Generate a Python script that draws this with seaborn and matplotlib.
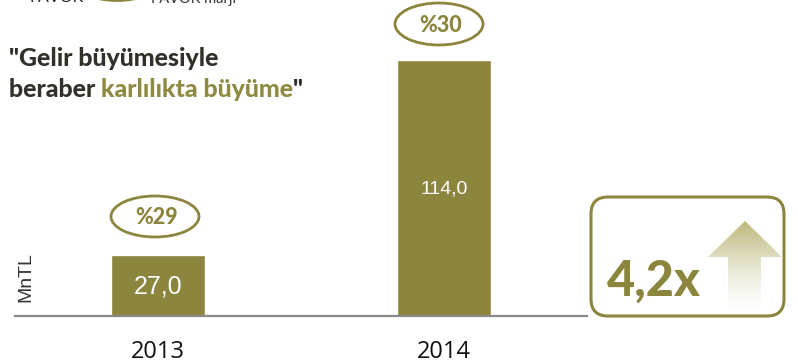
import numpy as np
import pandas as pd
import matplotlib
matplotlib.use("Agg")
import matplotlib.pyplot as plt
from matplotlib.patches import Ellipse, FancyBboxPatch, Polygon
import seaborn as sns

years = ["2013", "2014"]
favok = [27.0, 114.0]
value_labels = ["27,0", "114,0"]
margins = ["%29", "%30"]
growth_label = "4,2x"

OLIVE = "#8C853D"
DARK = "#33302A"
W, H = 798, 362
PX_PER_UNIT = 2.245

sns.set_theme(style="white")
plt.rcParams["font.family"] = ["Lato", "DejaVu Sans"]

fig = plt.figure(figsize=(W / 100, H / 100), dpi=100)

# Bar panel: the baseline sits at y=316 px, spanning x=15..587 px
ax = fig.add_axes([15 / W, (H - 316) / H, 572 / W, 316 / H])
df = pd.DataFrame({"year": years, "favok": favok})
sns.barplot(data=df, x="year", y="favok", color=OLIVE, saturation=1, width=0.327, ax=ax)
ax.set_xlim(-0.5, 1.5)
ax.set_ylim(0, 316 / PX_PER_UNIT)
ax.set_xlabel("")
ax.set_ylabel("")
ax.set_yticks([])
ax.tick_params(axis="x", length=0, pad=17, labelsize=17, labelcolor="#111111")
for lab in ax.get_xticklabels():
    lab.set_fontfamily("Open Sans")
sns.despine(ax=ax, left=True)
ax.spines["bottom"].set_color("#8A8A8A")
ax.spines["bottom"].set_linewidth(1.6)
ax.patch.set_alpha(0)

for x, v, lab, size, frac in zip(range(2), favok, value_labels, [18, 14], [0.48, 0.497]):
    ax.text(x, v * frac, lab, color="white", ha="center", va="center",
            fontsize=size, family="Liberation Sans")

# Annotation layer in pixel coordinates
ov = fig.add_axes([0, 0, 1, 1])
ov.set_xlim(0, W)
ov.set_ylim(H, 0)
ov.axis("off")
ov.patch.set_alpha(0)

for cx, cy, w, h, txt in zip([155, 439], [216.5, 24], [88, 88], [41, 42], margins):
    ov.add_patch(Ellipse((cx, cy), w, h, fc="white", ec=OLIVE, lw=2))
    ov.text(cx + 2, cy + 1, txt, color=OLIVE, ha="center", va="center",
            fontsize=15.5, fontweight="black")

# Legend strip, cut off by the top edge of the image
ov.text(57, -2.5, "FAVÖK", color="#222222", ha="center", va="center", fontsize=11.5)
ov.add_patch(Ellipse((117, -20), 88, 41, fc="white", ec=OLIVE, lw=2))
ov.text(193.5, -2, "FAVÖK marjı", color="#333333", ha="center", va="center", fontsize=10.5)

# Headline
ov.text(9, 58.5, '"Gelir büyümesiyle', color=DARK, ha="left", va="center",
        fontsize=17.9, fontweight="black")
head = ov.text(9, 89.5, "beraber ", color=DARK, ha="left", va="center",
               fontsize=17.9, fontweight="black")
mid = ov.annotate("karlılıkta büyüme", xycoords=head, xy=(1, 0), va="bottom", ha="left",
                  color="#8F8A42", fontsize=17.9, fontweight="black")
ov.annotate('"', xycoords=mid, xy=(1, 0), va="bottom", ha="left",
            color=DARK, fontsize=17.9, fontweight="black")

ov.text(26, 277, "MnTL", rotation=90, color="#333333", ha="center", va="center",
        fontsize=14, family="Liberation Sans")

# Growth callout
ov.add_patch(FancyBboxPatch((591, 197), 193, 119, boxstyle="round,pad=0,rounding_size=17",
                            fc="white", ec=OLIVE, lw=2.2))

# Upward arrow fading out towards its foot
arrow = Polygon([(745, 221), (782, 257), (761, 257), (761, 314), (728, 314), (728, 257), (708, 257)],
                closed=True, transform=ov.transData, fc="none", ec="none")
ov.add_patch(arrow)
fade = np.linspace(0, 1, 200)[:, None]
rgba = np.zeros((200, 1, 4))
rgba[..., :3] = matplotlib.colors.to_rgb("#BDB67A")
rgba[..., 3] = (1 - fade) ** 1.5
im = ov.imshow(rgba, extent=(700, 790, 314, 221), aspect="auto", zorder=3, interpolation="bilinear")
im.set_clip_path(arrow)
ov.set_xlim(0, W)
ov.set_ylim(H, 0)

ov.text(607, 281, growth_label, color=OLIVE, ha="left", va="center",
        fontsize=35, fontweight="black", zorder=4)

fig.savefig("out.png", dpi=100, facecolor="white")
